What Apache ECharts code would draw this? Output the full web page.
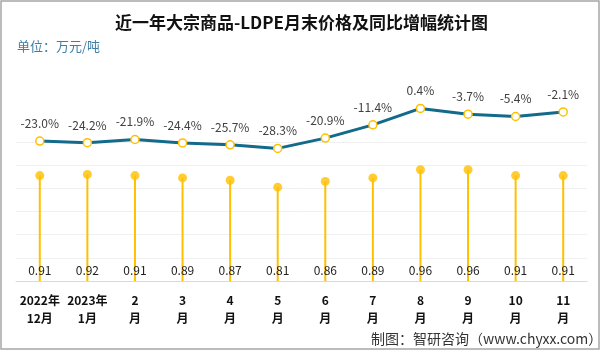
<!DOCTYPE html>
<html>
<head>
<meta charset="utf-8">
<script src="https://cdn.jsdelivr.net/npm/echarts@6/dist/echarts.min.js"></script>
<style>
  html, body { margin: 0; padding: 0; background: #fff; }
  #chart { width: 603px; height: 351px; }
</style>
</head>
<body>
<div id="chart"></div>
<script>
// 月份
const months = ['2022年\n12月', '2023年\n1月', '2\n月', '3\n月', '4\n月', '5\n月',
  '6\n月', '7\n月', '8\n月', '9\n月', '10\n月', '11\n月'];
// 月末价格（万元/吨）
const price = [0.91, 0.92, 0.91, 0.89, 0.87, 0.81, 0.86, 0.89, 0.96, 0.96, 0.91, 0.91];
// 同比增幅（%）
const growth = [-23.0, -24.2, -21.9, -24.4, -25.7, -28.3, -20.9, -11.4, 0.4, -3.7, -5.4, -2.1];

const fontCN = '"Noto Sans CJK SC", "Microsoft YaHei", sans-serif';

const chart = echarts.init(document.getElementById('chart'));
const option = {
  backgroundColor: '#fff',
  animation: false,
  textStyle: { fontFamily: fontCN },
  title: [
    {
      text: '近一年大宗商品-LDPE月末价格及同比增幅统计图',
      left: 'center',
      top: 9,
      textStyle: { fontSize: 17, fontWeight: 'bold', color: '#111', fontFamily: fontCN }
    },
    {
      text: '单位：万元/吨',
      left: 12,
      top: 35,
      textStyle: { fontSize: 13, fontWeight: 'normal', color: '#3f7ea6', fontFamily: fontCN }
    },
    {
      text: '制图：智研咨询（www.chyxx.com）',
      left: 366,
      top: 327,
      textStyle: { fontSize: 14, fontWeight: 'normal', color: '#333', fontFamily: fontCN }
    }
  ],
  graphic: [
    {
      type: 'rect',
      shape: { x: 1, y: 1, width: 598, height: 348 },
      style: { fill: 'none', stroke: '#a6a6a6', lineWidth: 1.5 },
      silent: true
    }
  ],
  grid: { left: 16, right: 16, top: 142, bottom: 70 },
  xAxis: {
    type: 'category',
    data: months,
    axisLine: { lineStyle: { color: '#d9d9d9', width: 1 } },
    axisTick: { show: false },
    axisLabel: {
      color: '#111',
      fontWeight: 'bold',
      fontSize: 12,
      lineHeight: 18,
      margin: 10,
      interval: 0,
      fontFamily: fontCN
    }
  },
  yAxis: [
    {
      type: 'value',
      min: 0,
      max: 1.2,
      interval: 0.2,
      axisLabel: { show: false },
      axisLine: { show: false },
      axisTick: { show: false },
      splitLine: { lineStyle: { color: '#f0f0f0', width: 1 } }
    },
    {
      type: 'value',
      min: -123.5,
      max: -23.7,
      show: false,
      splitLine: { show: false }
    }
  ],
  series: [
    {
      name: '月末价格',
      type: 'bar',
      data: price,
      barWidth: 2,
      itemStyle: { color: '#ffc000' },
      label: {
        show: true,
        position: 'insideBottom',
        distance: 5,
        color: '#222',
        fontSize: 12,
        fontFamily: fontCN
      },
      z: 2
    },
    {
      name: '价格点',
      type: 'scatter',
      data: price,
      symbol: 'circle',
      symbolSize: 9,
      itemStyle: { color: '#ffc000' },
      z: 3
    },
    {
      name: '同比增幅',
      type: 'line',
      yAxisIndex: 1,
      data: growth,
      clip: false,
      symbol: 'circle',
      symbolSize: 8,
      lineStyle: { color: '#136a8a', width: 3 },
      itemStyle: { color: '#fff', borderColor: '#ffc000', borderWidth: 1.5 },
      label: {
        show: true,
        position: 'top',
        distance: 7,
        color: '#404040',
        fontSize: 12,
        fontFamily: fontCN,
        formatter: p => p.value.toFixed(1) + '%'
      },
      z: 4
    }
  ]
};
chart.setOption(option);
</script>
</body>
</html>
